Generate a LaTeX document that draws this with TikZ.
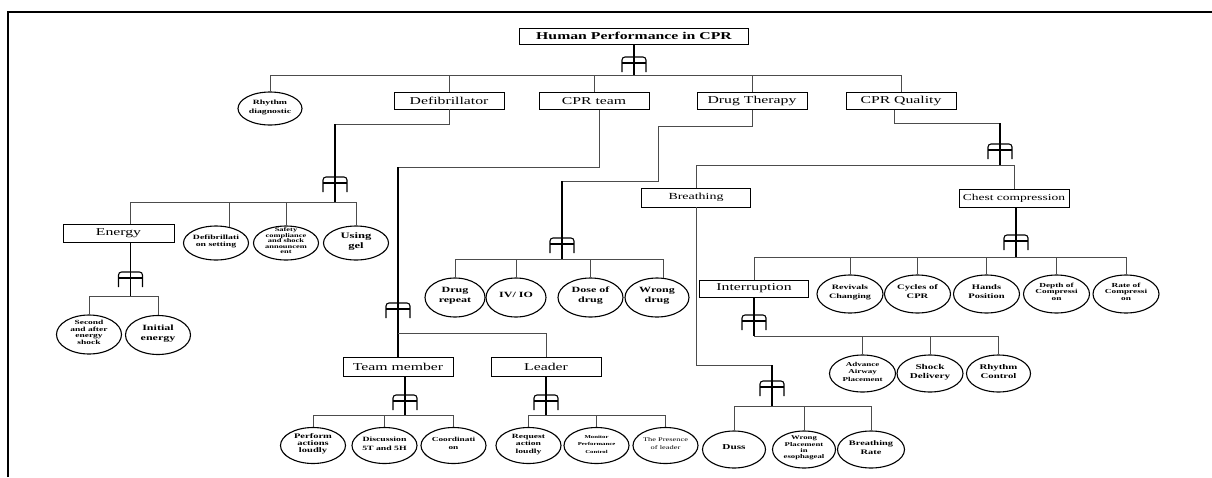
\documentclass[tikz,border=0pt]{standalone}
\usepackage{fontspec}
\setmainfont{Liberation Serif}
\newfontfamily\wide[FakeStretch=1.5]{Liberation Serif}
\usetikzlibrary{shapes.geometric}
\newcommand\ct[1]{\smash{\makebox[0pt]{\begin{tabular}{@{}c@{}}#1\end{tabular}}}}
\tikzset{
  boxn/.style={draw, line width=0.8pt, rectangle, minimum width=110pt, minimum height=17pt, inner sep=0pt, font=\wide\fontsize{10.5}{12}\selectfont},
  leafn/.style={draw, line width=1.1pt, ellipse, minimum width=65pt, minimum height=37pt, inner sep=0pt},
  fs/.style 2 args={font=\wide\bfseries\fontsize{#1}{#2}\selectfont},
  fr/.style 2 args={font=\wide\fontsize{#1}{#2}\selectfont},
  connline/.style={line width=0.7pt, draw=black!70},
  stemline/.style={line width=1.4pt, draw=black},
  andgate/.pic={
    \draw[line width=1.1pt, rounded corners=3pt] (-12,15) -- (-12,0) -- (12,0) -- (12,15);
    \draw[line width=1.1pt] (-12,6) -- (12,6);
  }
}
\begin{document}
\begin{tikzpicture}[x=1pt,y=-1pt]
\useasboundingbox (0,0) rectangle (1212,477);
\fill[white] (0,0) rectangle (1212,477);
\draw[line width=1.8pt] (8,477) -- (8,12) -- (1212,12);

% ---------- root ----------
\node[boxn, minimum width=229pt, minimum height=16pt, font=\wide\bfseries\fontsize{10.5}{12}\selectfont] (top) at (634,36) {Human Performance in CPR};
\coordinate (g0) at (634,57);
\coordinate (b0) at (634,75);
\draw[stemline] (top.south) -- (b0);
\pic at (g0) {andgate};

\node[leafn, minimum width=64pt, minimum height=33pt, fs={6.5}{9}] (rd) at (270,108.5) {\ct{Rhythm\\diagnostic}};
\node[boxn] (def) at (449,100.5) {Defibrillator};
\node[boxn] (ct) at (594,101) {CPR team};
\node[boxn] (dt) at (752,101) {Drug Therapy};
\node[boxn] (cq) at (901,101) {CPR Quality};
\draw[connline] (rd.north |- b0) -- (cq.north |- b0);
\foreach \n in {rd,def,ct,dt,cq}{\draw[connline] (\n.north |- b0) -- (\n.north);}

% ---------- Defibrillator ----------
\coordinate (k1a) at (449,124);
\coordinate (k1) at (335,124);
\coordinate (g1) at (335,177);
\coordinate (b1) at (335,202);
\draw[connline] (def.south) -- (k1a) -- (k1);
\draw[stemline] (k1) -- (b1);
\pic at (g1) {andgate};
\node[boxn, minimum width=111pt, minimum height=18pt] (en) at (118.5,233) {Energy};
\node[leafn, minimum height=34pt, fs={6.5}{7.5}] (ds) at (216,243) {\ct{Defibrillati\\on setting}};
\node[leafn, minimum height=34pt, fs={5.6}{5.4}] (sc) at (286,243) {\ct{Safety\\compliance\\and shock\\announcem\\ent}};
\node[leafn, minimum height=34pt, fs={8.4}{10}] (ug) at (356,243) {\ct{Using\\gel}};
\coordinate (ent) at ([xshift=12pt]en.north);
\coordinate (dst) at ([xshift=13pt,yshift=-1.5pt]ds.north);
\draw[connline] (ent |- b1) -- (ug.north |- b1);
\draw[connline] (ent |- b1) -- (ent);
\draw[connline] (dst |- b1) -- (dst);
\draw[connline] (sc.north |- b1) -- (sc.north);
\draw[connline] (ug.north |- b1) -- (ug.north);

% ---------- Energy ----------
\coordinate (enb) at ([xshift=12pt]en.south);
\coordinate (g2) at (130.5,272);
\coordinate (b2) at (130.5,296);
\draw[stemline] (enb) -- (b2);
\pic at (g2) {andgate};
\node[leafn, minimum height=39pt, fs={6.3}{6.5}] (se) at (89,334.5) {\ct{Second\\and after\\energy\\shock}};
\node[leafn, minimum height=39pt, fs={8}{10}] (ie) at (158,335) {\ct{Initial\\energy}};
\draw[connline] (se.north |- b2) -- (ie.north |- b2);
\draw[connline] (se.north |- b2) -- (se.north);
\draw[connline] (ie.north |- b2) -- (ie.north);

% ---------- CPR team ----------
\coordinate (cts) at ([xshift=5pt]ct.south);
\coordinate (k3a) at (599,167);
\coordinate (k3) at (398,167);
\coordinate (g3) at (398,303);
\coordinate (b3) at (398,333);
\node[boxn, minimum height=19pt] (tm) at (398,366.5) {Team member};
\node[boxn, minimum height=19pt] (ld) at (546,366.5) {Leader};
\draw[connline] (cts) -- (k3a) -- (k3);
\draw[stemline] (k3) -- (tm.north);
\pic at (g3) {andgate};
\draw[connline] (b3) -- (ld.north |- b3) -- (ld.north);

% ---------- Team member ----------
\coordinate (tms) at ([xshift=7pt]tm.south);
\coordinate (g4) at (405,395);
\coordinate (b4) at (405,415);
\draw[stemline] (tms) -- (b4);
\pic at (g4) {andgate};
\node[leafn, minimum height=36pt, fs={7}{6.8}] (pa) at (313,445.5) {\ct{Perform\\actions\\loudly}};
\node[leafn, minimum height=36pt, fs={6.5}{9}] (dis) at (384.5,445.5) {\ct{Discussion\\5T and 5H}};
\node[leafn, minimum height=36pt, fs={6.2}{8}] (co) at (453.5,445.5) {\ct{Coordinati\\on}};
\draw[connline] (pa.north |- b4) -- (co.north |- b4);
\foreach \n in {pa,dis,co}{\draw[connline] (\n.north |- b4) -- (\n.north);}

% ---------- Leader ----------
\coordinate (g5) at (546,395);
\coordinate (b5) at (546,415);
\draw[stemline] (ld.south) -- (b5);
\pic at (g5) {andgate};
\node[leafn, minimum height=36pt, fs={6.4}{7.5}] (ra) at (528.5,445.5) {\ct{Request\\action\\loudly}};
\node[leafn, minimum height=36pt, fs={4.5}{7.5}] (mp) at (596.5,445.5) {\ct{Monitor\\Performance\\Control}};
\node[leafn, minimum height=36pt, fr={5.6}{8}] (pl) at (665.5,445.5) {\ct{The Presence\\of leader}};
\draw[connline] (ra.north |- b5) -- (pl.north |- b5);
\foreach \n in {ra,mp,pl}{\draw[connline] (\n.north |- b5) -- (\n.north);}

% ---------- Drug Therapy ----------
\coordinate (k6a) at (752,126);
\coordinate (k6b) at (658,126);
\coordinate (k6c) at (658,181);
\coordinate (k6) at (562,181);
\coordinate (g6) at (562,238);
\coordinate (b6) at (562,259);
\draw[connline] (dt.south) -- (k6a) -- (k6b) -- (k6c) -- (k6);
\draw[stemline] (k6) -- (b6);
\pic at (g6) {andgate};
\node[leafn, minimum width=60pt, minimum height=39pt, fs={8}{9.5}] (dr) at (455,297.5) {\ct{Drug\\repeat}};
\node[leafn, minimum width=60pt, minimum height=39pt, fs={8}{9.5}] (iv) at (516,297.5) {\ct{IV/ IO}};
\node[leafn, minimum width=65pt, minimum height=39pt, fs={8}{9.5}] (dd) at (590.5,297.5) {\ct{Dose of\\drug}};
\node[leafn, minimum width=64pt, minimum height=39pt, fs={8}{9.5}] (wd) at (657,297.5) {\ct{Wrong\\drug}};
\coordinate (wdt) at ([xshift=6pt,yshift=-1pt]wd.north);
\draw[connline] (dr.north |- b6) -- (wdt |- b6);
\foreach \n in {dr,iv,dd}{\draw[connline] (\n.north |- b6) -- (\n.north);}
\draw[connline] (wdt |- b6) -- (wdt);

% ---------- CPR Quality ----------
\coordinate (cqs) at ([xshift=-7pt]cq.south);
\coordinate (k7a) at (894,123);
\coordinate (k7) at (1000,123);
\coordinate (g7) at (1000,144);
\coordinate (b7) at (1000,165);
\draw[connline] (cqs) -- (k7a) -- (k7);
\draw[stemline] (k7) -- (b7);
\pic at (g7) {andgate};
\node[boxn, minimum width=109pt, minimum height=19pt, font=\wide\fontsize{9.3}{11}\selectfont] (br) at (696,197.5) {Breathing};
\node[boxn, minimum height=18pt, font=\wide\fontsize{9}{11}\selectfont] (cc) at (1014,198) {Chest compression};
\draw[connline] (br.north |- b7) -- (cc.north |- b7);
\draw[connline] (br.north |- b7) -- (br.north);
\draw[connline] (cc.north |- b7) -- (cc.north);

% ---------- Breathing ----------
\coordinate (k8a) at (696,365);
\coordinate (k8) at (772,365);
\coordinate (g8) at (772,381);
\coordinate (b8) at (772,406);
\draw[connline] (br.south) -- (k8a) -- (k8);
\draw[stemline] (k8) -- (b8);
\pic at (g8) {andgate};
\node[leafn, minimum width=63pt, fs={7.5}{9}] (du) at (734,449.5) {\ct{Duss}};
\node[leafn, minimum width=63pt, fs={5.8}{6.3}] (wp) at (804,449.5) {\ct{Wrong\\Placement\\in\\esophageal}};
\node[leafn, minimum width=67pt, fs={6.9}{9}] (brr) at (871,449.5) {\ct{Breathing\\Rate}};
\draw[connline] (du.north |- b8) -- (brr.north |- b8);
\foreach \n in {du,wp,brr}{\draw[connline] (\n.north |- b8) -- (\n.north);}

% ---------- Chest compression ----------
\coordinate (ccs) at ([xshift=2pt]cc.south);
\coordinate (g9) at (1016,235);
\coordinate (b9) at (1016,257);
\draw[stemline] (ccs) -- (b9);
\pic at (g9) {andgate};
\node[boxn, minimum width=109pt, minimum height=17pt] (ib) at (754,288.5) {Interruption};
\node[leafn, minimum width=66pt, minimum height=38pt, fs={6.7}{9}] (rc) at (850,294) {\ct{Revivals\\Changing}};
\node[leafn, minimum width=66pt, minimum height=38pt, fs={7}{9}] (cy) at (917.5,294) {\ct{Cycles of\\CPR}};
\node[leafn, minimum width=66pt, minimum height=38pt, fs={7}{9}] (hp) at (986.5,294) {\ct{Hands\\Position}};
\node[leafn, minimum width=66pt, minimum height=38pt, fs={6.2}{6.6}] (dc) at (1056.5,294) {\ct{Depth of\\Compressi\\on}};
\node[leafn, minimum width=66pt, minimum height=38pt, fs={6.2}{6.6}] (rt) at (1126,294) {\ct{Rate of\\Compressi\\on}};
\draw[connline] (ib.north |- b9) -- (rt.north |- b9);
\foreach \n in {ib,rc,cy,hp,dc,rt}{\draw[connline] (\n.north |- b9) -- (\n.north);}

% ---------- Interruption ----------
\coordinate (g10) at (754,315);
\coordinate (b10) at (754,336);
\draw[stemline] (ib.south) -- (b10);
\pic at (g10) {andgate};
\node[leafn, minimum width=66pt, fs={6}{7.5}] (aa) at (862.5,373.5) {\ct{Advance\\Airway\\Placement}};
\node[leafn, minimum width=66pt, fs={7.4}{9}] (sd) at (930,373.5) {\ct{Shock\\Delivery}};
\node[leafn, minimum width=64pt, fs={7.2}{9}] (rco) at (998.5,373.5) {\ct{Rhythm\\Control}};
\draw[connline] (b10) -- (rco.north |- b10);
\foreach \n in {aa,sd,rco}{\draw[connline] (\n.north |- b10) -- (\n.north);}
\end{tikzpicture}
\end{document}
